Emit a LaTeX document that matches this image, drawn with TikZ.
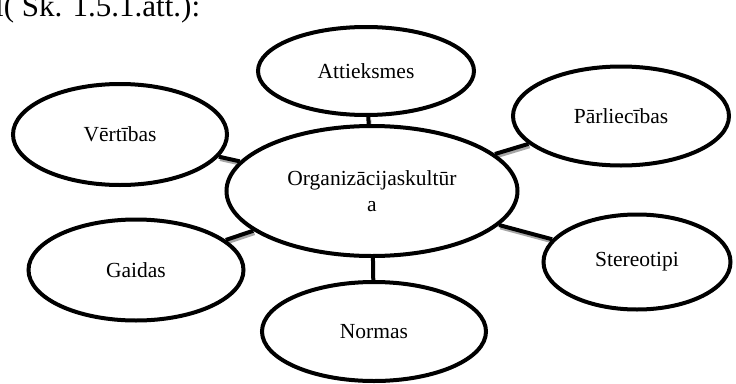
\documentclass[tikz,border=0pt]{standalone}
\usepackage{fontspec}
\setmainfont{Liberation Serif}
\usetikzlibrary{shapes.geometric,backgrounds}
\tikzset{
  bubble/.style={ellipse, draw=black, line width=4pt, fill=white, inner sep=0pt,
    font=\fontsize{21.5}{26.5}\selectfont, align=center},
  link/.style={draw=black, line width=4pt},
  linkshade/.style={draw=black!35, line width=3.5pt,
    transform canvas={xshift=1.2pt, yshift=-2.6pt}}
}
\begin{document}
\begin{tikzpicture}[x=1pt,y=-1pt]
  \useasboundingbox (0,0) rectangle (736,383);
  \clip (0,0) rectangle (736,383);

  % caption line above the figure
  \node[anchor=base west, inner sep=0pt, font=\fontsize{31}{36}\selectfont] (cap) at (-5,16) {l( Sk. 1.5.1.att.):};

  % central concept
  \node[bubble, minimum width=291pt, minimum height=130pt] (cen) at (372,191)
    {Organizācijaskultūr\\a};

  % surrounding concepts
  \node[bubble, minimum width=216pt, minimum height=88pt]  (att) at (366,71)    {Attieksmes};
  \node[bubble, minimum width=214pt, minimum height=101pt] (ver) at (120,134.5) {Vērtības};
  \node[bubble, minimum width=216pt, minimum height=99pt]  (par) at (621,116)   {Pārliecības};
  \node[bubble, minimum width=215pt, minimum height=101pt] (gai) at (136,270)   {Gaidas};
  \node[bubble, minimum width=187pt, minimum height=95pt]  (ste) at (637,262)   {Stereotipi};
  \node[bubble, minimum width=224pt, minimum height=99pt]  (nor) at (374,331.5) {Normas};

  % short spokes behind the ellipses
  \begin{scope}[on background layer]
    \foreach \n in {att,ver,par,gai,ste} {
      \draw[linkshade] (\n) -- (cen);
      \draw[link] (\n) -- (cen);
    }
    \draw[link] (nor) -- (cen);
  \end{scope}
\end{tikzpicture}
\end{document}
